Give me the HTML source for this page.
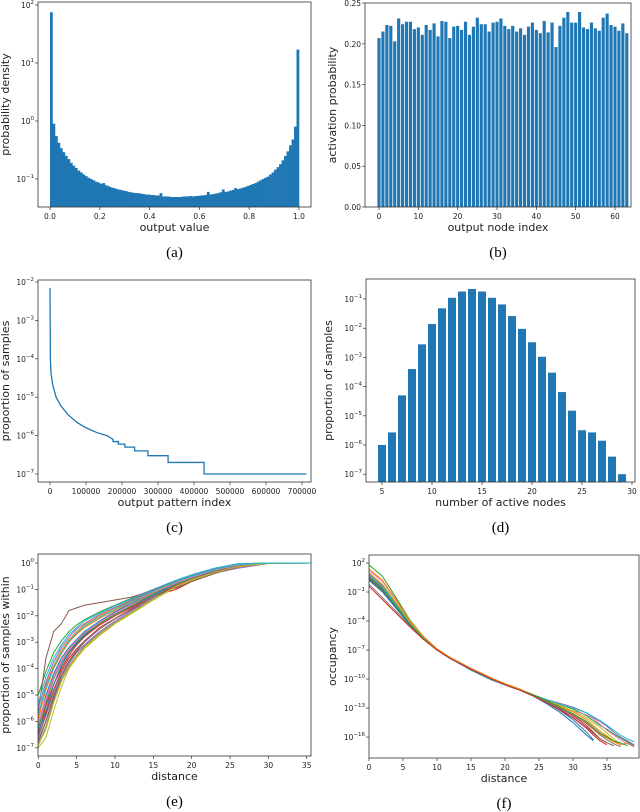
<!DOCTYPE html>
<html><head><meta charset="utf-8"><style>
html,body{margin:0;padding:0;background:#fff;}
svg{display:block;}
text{font-family:"DejaVu Sans","Liberation Sans",sans-serif;fill:#222;}
.cap{font-family:"Liberation Serif",serif;font-size:15px;fill:#000;}
</style></head><body>
<svg id="fig" width="640" height="812" viewBox="0 0 640 812" xmlns="http://www.w3.org/2000/svg"></svg>
<script>
// ---- panel (a) data: histogram density per bin (100 bins on [0,1])
const aDensity = [75,0.9,0.55,0.42,0.34,0.29,0.25,0.22,0.19,0.17,0.155,0.14,0.13,0.12,0.112,0.105,0.1,0.095,0.09,0.087,0.083,0.085,0.078,0.075,0.072,0.07,0.068,0.066,0.065,0.063,0.062,0.06,0.059,0.058,0.057,0.057,0.056,0.055,0.054,0.054,0.053,0.053,0.052,0.052,0.057,0.05,0.05,0.05,0.049,0.049,0.049,0.049,0.049,0.05,0.05,0.05,0.051,0.05,0.051,0.051,0.052,0.052,0.053,0.06,0.054,0.055,0.056,0.057,0.059,0.066,0.06,0.061,0.063,0.065,0.07,0.067,0.069,0.071,0.073,0.076,0.079,0.082,0.085,0.09,0.095,0.1,0.105,0.11,0.12,0.13,0.145,0.16,0.18,0.21,0.25,0.3,0.38,0.48,0.8,17];
// ---- panel (b)
const bProb = [.207,.215,.223,.222,.203,.231,.224,.227,.227,.218,.220,.211,.223,.217,.225,.209,.228,.227,.207,.221,.222,.217,.227,.211,.221,.232,.224,.224,.215,.226,.227,.231,.222,.218,.222,.215,.219,.211,.221,.226,.217,.213,.228,.214,.226,.196,.222,.232,.239,.226,.226,.239,.220,.218,.226,.219,.216,.232,.237,.223,.221,.216,.225,.213];
const bTicks = [0,10,20,30,40,50,60];
const bYTicks = [0,0.05,0.10,0.15,0.20,0.25];
// ---- panel (c): step curve (index, proportion)
const cIndex = [0,500,1000,3000,8000,17000,30000,50000,75000,100000,130000,158000,175000,175000,190000,190000,208000,208000,235000,235000,272000,272000,328000,328000,428000,428000,712000];
const cProp = [7e-3,1e-3,1e-4,4e-5,2e-5,1e-5,6e-6,3.5e-6,2.2e-6,1.6e-6,1.2e-6,1e-6,8e-7,7e-7,7e-7,6e-7,6e-7,5e-7,5e-7,4e-7,4e-7,3e-7,3e-7,2e-7,2e-7,1e-7,1e-7];
const cTicks = [0,100000,200000,300000,400000,500000,600000,700000];
// ---- panel (d)
const dNodes = [5,6,7,8,9,10,11,12,13,14,15,16,17,18,19,20,21,22,23,24,25,26,27,28,29];
const dProp = [1e-6,2.7e-6,5e-5,4e-4,2.8e-3,1.4e-2,4.8e-2,0.11,0.18,0.22,0.18,0.11,0.065,0.026,0.0095,3.3e-3,1.05e-3,3e-4,6.5e-5,1.5e-5,3.2e-6,2.7e-6,1.4e-6,4e-7,1e-7];
// ---- panel (e): log10 cumulative proportion vs distance
const eDist = [0,1,2,3,4,5,6,8,10,12,15,18,20,23,26,30,36];
const eCurves = [
[-6.2,-5.0,-4.2,-3.6,-3.2,-2.9,-2.6,-2.2,-1.85,-1.55,-1.1,-0.75,-0.55,-0.3,-0.1,0,0],
[-5.8,-4.6,-3.9,-3.3,-2.9,-2.6,-2.35,-2.0,-1.7,-1.45,-1.05,-0.7,-0.5,-0.25,-0.06,0,0],
[-5.0,-4.1,-3.4,-2.95,-2.6,-2.35,-2.15,-1.85,-1.6,-1.35,-1.0,-0.65,-0.45,-0.2,-0.03,0,0],
[-6.5,-5.4,-4.6,-4.0,-3.5,-3.1,-2.8,-2.35,-2.0,-1.7,-1.25,-1.0,-0.7,-0.35,-0.15,-0.01,0],
[-6.7,-6.0,-5.0,-4.3,-3.8,-3.4,-3.1,-2.6,-2.2,-1.85,-1.3,-0.85,-0.62,-0.38,-0.2,-0.02,0],
[-5.6,-3.6,-2.6,-2.3,-1.8,-1.7,-1.6,-1.5,-1.4,-1.3,-1.05,-0.95,-0.7,-0.4,-0.15,0,0],
[-6.0,-5.1,-4.3,-3.7,-3.25,-2.95,-2.65,-2.25,-1.9,-1.6,-1.15,-0.8,-0.55,-0.28,-0.08,0,0],
[-6.9,-6.2,-5.2,-4.4,-3.9,-3.5,-3.15,-2.65,-2.25,-1.9,-1.35,-0.9,-0.65,-0.35,-0.13,-0.01,0],
[-7.0,-6.6,-5.6,-4.7,-4.0,-3.6,-3.25,-2.75,-2.3,-1.95,-1.4,-0.9,-0.66,-0.36,-0.13,-0.01,0],
[-5.3,-4.3,-3.6,-3.1,-2.7,-2.45,-2.2,-1.9,-1.62,-1.38,-1.0,-0.65,-0.45,-0.2,-0.03,0,0],
[-6.4,-5.6,-4.6,-3.9,-3.4,-3.05,-2.75,-2.3,-1.95,-1.65,-1.2,-0.8,-0.58,-0.3,-0.1,0,0],
[-5.9,-4.8,-4.0,-3.45,-3.0,-2.7,-2.45,-2.1,-1.8,-1.5,-1.1,-0.72,-0.5,-0.25,-0.06,0,0],
[-6.3,-5.3,-4.4,-3.8,-3.35,-3.0,-2.7,-2.3,-1.95,-1.65,-1.15,-0.78,-0.56,-0.3,-0.1,0,0],
[-6.6,-5.7,-4.8,-4.1,-3.6,-3.25,-2.95,-2.45,-2.1,-1.75,-1.25,-0.85,-0.6,-0.32,-0.12,-0.01,0],
[-5.5,-4.5,-3.75,-3.2,-2.8,-2.5,-2.3,-1.95,-1.68,-1.42,-1.02,-0.68,-0.48,-0.22,-0.05,0,0],
[-6.8,-6.0,-5.1,-4.3,-3.75,-3.35,-3.0,-2.5,-2.12,-1.8,-1.28,-0.9,-0.64,-0.34,-0.14,-0.01,0],
[-6.1,-5.2,-4.35,-3.75,-3.3,-2.95,-2.65,-2.25,-1.9,-1.6,-1.12,-0.76,-0.54,-0.27,-0.08,0,0],
[-6.6,-5.8,-4.9,-4.2,-3.7,-3.3,-2.95,-2.5,-2.1,-1.78,-1.25,-0.82,-0.6,-0.33,-0.12,-0.01,0],
[-6.9,-6.3,-5.3,-4.5,-3.95,-3.55,-3.2,-2.7,-2.28,-1.92,-1.38,-0.88,-0.64,-0.36,-0.14,-0.01,0],
[-5.7,-4.7,-3.95,-3.4,-2.95,-2.65,-2.4,-2.05,-1.75,-1.48,-1.06,-0.7,-0.5,-0.24,-0.05,0,0]
];
const eTicks = [0,5,10,15,20,25,30,35];
// ---- panel (f): log10 occupancy vs distance (null = curve ended)
const fDist = [0,2,4,6,8,10,12,15,18,20,22,24,26,28,30,32,33,34,35,36,37,38,39];
const fCurves = [
[0.3,-0.8,-2.6,-4.4,-5.8,-7.0,-7.8,-8.9,-9.9,-10.5,-11.0,-11.6,-12.4,-13.2,-14.2,-15.5,-16.3,null,null,null,null,null,null],
[0.8,-0.3,-2.2,-4.2,-5.7,-6.9,-7.8,-8.9,-9.9,-10.5,-11.0,-11.6,-12.2,-12.9,-13.6,-14.5,-15.1,-15.7,-16.1,-16.5,-16.8,-16.6,-17.0],
[1.8,0.6,-1.6,-3.9,-5.6,-6.9,-7.8,-8.9,-9.9,-10.5,-11.0,-11.6,-12.1,-12.6,-13.1,-13.8,-14.3,-14.8,-15.2,-15.7,-16.1,-16.5,-16.9],
[0.6,-0.6,-2.5,-4.3,-5.8,-7.0,-7.9,-9.0,-10.0,-10.6,-11.1,-11.6,-12.3,-13.0,-13.8,-14.8,-15.5,-16.2,-16.6,null,null,null,null],
[0.9,-0.4,-2.3,-4.2,-5.7,-6.9,-7.8,-8.9,-9.9,-10.5,-11.0,-11.6,-12.1,-12.5,-12.9,-13.5,-14.0,-14.4,-14.9,-15.5,-16.0,-16.4,-16.8],
[0.4,-0.9,-2.6,-4.4,-5.8,-7.0,-7.9,-9.0,-10.0,-10.6,-11.1,-11.6,-12.3,-13.1,-14.0,-15.0,-15.6,-16.2,-16.6,-16.9,null,null,null],
[1.2,0.1,-1.9,-4.0,-5.6,-6.9,-7.9,-8.9,-9.9,-10.5,-11.0,-11.6,-12.2,-12.8,-13.3,-13.7,-14.1,-14.7,-15.3,-15.8,-16.3,-16.7,-17.0],
[-0.2,-1.6,-3.0,-4.5,-5.8,-6.9,-7.8,-8.9,-9.9,-10.5,-11.0,-11.6,-12.3,-13.0,-13.7,-14.6,-15.2,-15.8,-16.3,-16.7,-17.0,null,null],
[1.0,-0.2,-2.1,-4.1,-5.7,-6.9,-7.8,-8.9,-9.9,-10.5,-11.0,-11.6,-12.2,-12.7,-13.3,-14.0,-14.5,-15.0,-15.6,-16.2,-16.7,null,null],
[0.7,-0.5,-2.4,-4.3,-5.8,-7.0,-7.9,-9.1,-10.1,-10.6,-11.0,-11.6,-12.1,-12.6,-13.0,-13.5,-13.9,-14.3,-14.8,-15.3,-15.8,-16.2,-16.5],
[0.2,-1.0,-2.7,-4.4,-5.8,-7.0,-7.9,-9.0,-10.0,-10.6,-11.1,-11.7,-12.5,-13.4,-14.5,-15.8,-16.4,null,null,null,null,null,null],
[1.4,0.2,-1.8,-4.0,-5.6,-6.9,-7.8,-8.9,-9.9,-10.5,-11.0,-11.6,-12.2,-12.8,-13.4,-14.2,-14.8,-15.4,-15.9,-16.4,-16.8,null,null],
[0.5,-0.7,-2.5,-4.3,-5.8,-7.0,-7.9,-9.0,-10.0,-10.6,-11.1,-11.6,-12.2,-12.9,-13.6,-14.4,-15.0,-15.6,-16.0,-16.4,-16.6,-16.9,null],
[-0.4,-1.8,-3.2,-4.6,-5.9,-7.0,-7.9,-9.0,-10.0,-10.6,-11.1,-11.7,-12.4,-13.2,-14.0,-15.1,-15.8,-16.4,-16.8,null,null,null,null]
];
const fTicks = [0,5,10,15,20,25,30,35];

const colors = ['#1f77b4','#ff7f0e','#2ca02c','#d62728','#9467bd','#8c564b','#e377c2','#7f7f7f','#bcbd22','#17becf'];
const NS = 'http://www.w3.org/2000/svg';
const fig = document.getElementById('fig');
function mk(tag, attrs, parent){const e=document.createElementNS(NS,tag);for(const k in attrs)e.setAttribute(k,attrs[k]);(parent||fig).appendChild(e);return e;}

function frame(g,L,R,T,B){
  const r=mk('rect',{x:L,y:T,width:R-L,height:B-T,fill:'none',stroke:'#333','stroke-width':0.8},g);
  
  
}
function xTick(g,x,B,label){
  mk('line',{x1:x,x2:x,y1:B,y2:B+3,stroke:'#333','stroke-width':0.7},g);
  const t=mk('text',{x:x,y:B+12,'font-size':7.5,'text-anchor':'middle'},g);t.textContent=label;
  
  
}
function yTick(g,y,L,label,exp){
  mk('line',{x1:L-3,x2:L,y1:y,y2:y,stroke:'#333','stroke-width':0.7},g);
  const t=mk('text',{x:L-4,y:y+3,'font-size':7.5,'text-anchor':'end'},g);
  
  
  if(exp===undefined){t.textContent=label;}
  else{const a=mk('tspan',{},t);a.textContent='10';const b=mk('tspan',{'font-size':5.5,dy:-4},t);b.textContent=exp;}
}
function labels(g,L,R,T,B,xl,yl,cap,ylx){
  const cx=(L+R)/2;
  const t1=mk('text',{x:cx,y:B+24,'font-size':11,'text-anchor':'middle'},g);t1.textContent=xl;
  
  
  const cy=(T+B)/2;
  const t2=mk('text',{x:ylx,y:cy,'font-size':11,'text-anchor':'middle',transform:`rotate(-90 ${ylx} ${cy})`},g);t2.textContent=yl;
  
  
  const t3=mk('text',{x:cx,y:B+50,'text-anchor':'middle',class:'cap'},g);t3.textContent=cap;
  
  
}
function linScale(d0,d1,p0,p1){return v=>p0+(v-d0)*(p1-p0)/(d1-d0);}

// ===== Panel A
(function(){
  const g=mk('g',{});
  
  
  const L=38,R=311,T=2,B=207;
  const x=linScale(0,1,50,299), y=v=>121-58*Math.log10(v);
  const n=aDensity.length;
  aDensity.forEach((v,i)=>{
    const x0=x(i/n),x1=x((i+1)/n);
    const r=mk('rect',{x:x0,y:y(v),width:x1-x0+0.3,height:B-y(v),fill:'#1f77b4'},g);
    
    
  });
  frame(g,L,R,T,B);
  [0,0.2,0.4,0.6,0.8,1.0].forEach(v=>xTick(g,x(v),B,v.toFixed(1)));
  [2,1,0,-1].forEach(e=>yTick(g,y(Math.pow(10,e)),L,'',String(e).replace('-','\u2212')));
  labels(g,L,R,T,B,'output value','probability density','(a)',9);
})();

// ===== Panel B
(function(){
  const g=mk('g',{});
  
  
  const L=365,R=631,T=3,B=207;
  const x=linScale(0,60,379,615), y=linScale(0,0.25,B,T);
  const bw=(x(1)-x(0))*0.8;
  bProb.forEach((v,i)=>{
    const r=mk('rect',{x:x(i)-bw/2,y:y(v),width:bw,height:B-y(v),fill:'#1f77b4'},g);
    
    
  });
  frame(g,L,R,T,B);
  bTicks.forEach(v=>xTick(g,x(v),B,String(v)));
  bYTicks.forEach(v=>yTick(g,y(v),L,v.toFixed(2)));
  labels(g,L,R,T,B,'output node index','activation probability','(b)',336);
})();

// ===== Panel C
(function(){
  const g=mk('g',{});
  
  
  const L=38,R=311,T=280,B=482;
  const x=linScale(0,700000,50,302), y=v=>282-38.4*(Math.log10(v)+2);
  const d=cIndex.map((v,i)=>(i?'L':'M')+x(v).toFixed(2)+','+y(cProp[i]).toFixed(2)).join(' ');
  const p=mk('path',{d:d,fill:'none',stroke:'#1f77b4','stroke-width':1.3},g);
  
  
  frame(g,L,R,T,B);
  cTicks.forEach(v=>xTick(g,x(v),B,String(v)));
  [-2,-3,-4,-5,-6,-7].forEach(e=>yTick(g,y(Math.pow(10,e)),L,'','\u2212'+(-e)));
  labels(g,L,R,T,B,'output pattern index','proportion of samples','(c)',9);
})();

// ===== Panel D
(function(){
  const g=mk('g',{});
  
  
  const L=366,R=635,T=279,B=482;
  const x=linScale(5,30,382,632), y=v=>299-29.2*(Math.log10(v)+1);
  const bw=(x(1)-x(0))*0.8;
  dProp.forEach((v,i)=>{
    const r=mk('rect',{x:x(dNodes[i])-bw/2,y:y(v),width:bw,height:B-y(v),fill:'#1f77b4'},g);
    
    
  });
  frame(g,L,R,T,B);
  [5,10,15,20,25,30].forEach(v=>xTick(g,x(v),B,String(v)));
  [-1,-2,-3,-4,-5,-6,-7].forEach(e=>yTick(g,y(Math.pow(10,e)),L,'','\u2212'+(-e)));
  labels(g,L,R,T,B,'number of active nodes','proportion of samples','(d)',332);
})();

// ===== Panel E
(function(){
  const g=mk('g',{});
  
  
  const L=38,R=311,T=554,B=756;
  const x=linScale(0,35,38.3,306.7), y=lv=>563-26.4*lv;
  const cp=mk('clipPath',{id:'clipE'},g);mk('rect',{x:L,y:T,width:R-L,height:B-T},cp);
  const cg=mk('g',{'clip-path':'url(#clipE)'},g);
  eCurves.forEach((c,k)=>{
    const d=c.map((v,i)=>(i?'L':'M')+x(eDist[i]).toFixed(2)+','+y(v).toFixed(2)).join(' ');
    const p=mk('path',{d:d,fill:'none',stroke:colors[k%10],'stroke-width':1},cg);
    
    
  });
  frame(g,L,R,T,B);
  eTicks.forEach(v=>xTick(g,x(v),B,String(v)));
  [0,-1,-2,-3,-4,-5,-6,-7].forEach(e=>yTick(g,y(e),L,'',e===0?'0':'\u2212'+(-e)));
  labels(g,L,R,T,B,'distance','proportion of samples within','(e)',9);
})();

// ===== Panel F
(function(){
  const g=mk('g',{});
  
  
  const L=369,R=639,T=555,B=758;
  const x=linScale(0,35,369,607), y=lv=>563+9.67*(2-lv);
  const cp=mk('clipPath',{id:'clipF'},g);mk('rect',{x:L,y:T,width:R-L,height:B-T},cp);
  const cg=mk('g',{'clip-path':'url(#clipF)'},g);
  fCurves.forEach((c,k)=>{
    let d='',started=false;
    c.forEach((v,i)=>{if(v===null)return;d+=(started?'L':'M')+x(fDist[i]).toFixed(2)+','+y(v).toFixed(2)+' ';started=true;});
    const p=mk('path',{d:d,fill:'none',stroke:colors[k%10],'stroke-width':1},cg);
    
    
  });
  frame(g,L,R,T,B);
  fTicks.forEach(v=>xTick(g,x(v),B,String(v)));
  [2,-1,-4,-7,-10,-13,-16].forEach(e=>yTick(g,y(e),L,'',e>0?String(e):'\u2212'+(-e)));
  labels(g,L,R,T,B,'distance','occupancy','(f)',336);
})();
</script>
</body></html>
